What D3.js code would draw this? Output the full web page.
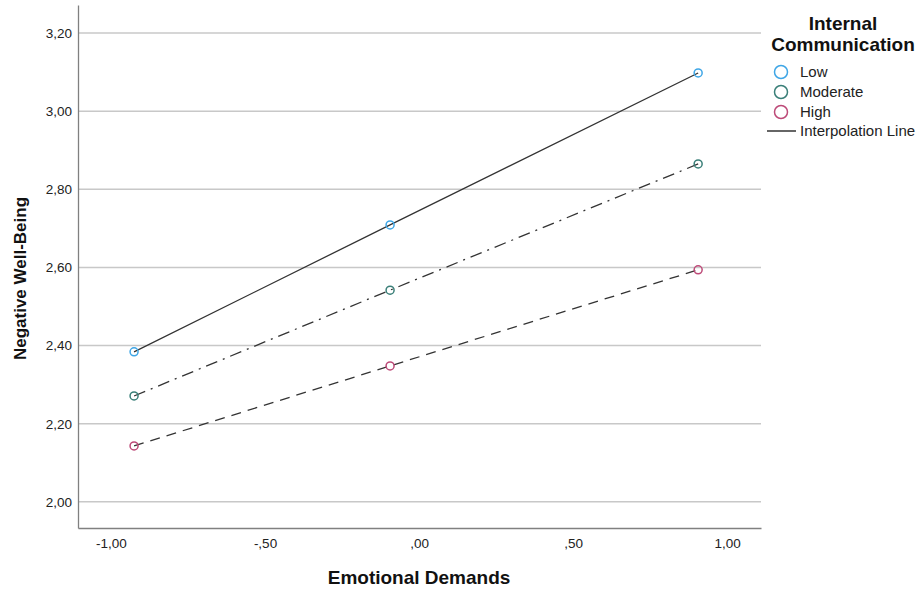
<!DOCTYPE html>
<html lang="en">
<head>
<meta charset="utf-8">
<script src="https://cdn.jsdelivr.net/npm/d3@7"></script>
<style>
  body { margin: 0; background: #fff; }
  svg { font-family: "Liberation Sans", Arial, sans-serif; }
</style>
</head>
<body>
<script>
// x values (emotional demands) and mean negative well-being per group
var xValues = [-0.925, -0.094, 0.906];
var groups = ["Low", "Moderate", "High"];
var lowValues = [2.384, 2.709, 3.098];
var moderateValues = [2.271, 2.542, 2.865];
var highValues = [2.143, 2.348, 2.594];
var yTicks = [2.0, 2.2, 2.4, 2.6, 2.8, 3.0, 3.2];
var xTicks = [-1, -0.5, 0, 0.5, 1];

var colors = {Low: "#3fa6e6", Moderate: "#3a7f78", High: "#bd4a78"};
var dashes = {Low: null, Moderate: "12,6,2,6", High: "10,7"};

var width = 921, height = 589;
var plot = {left: 78, right: 761, top: 5, bottom: 528};

var svg = d3.select("body").append("svg")
  .attr("width", width)
  .attr("height", height);

var x = d3.scaleLinear().domain([-1.107, 1.110]).range([plot.left, plot.right]);
var y = d3.scaleLinear().domain([1.933, 3.272]).range([plot.bottom, plot.top]);

// SPSS style: comma decimal, no leading zero, plain hyphen
var fmt = function(v) {
  var s = Math.abs(v).toFixed(2).replace(".", ",").replace(/^0,/, ",");
  return (v < 0 ? "-" : "") + s;
};

// gridlines
svg.append("g").selectAll("line").data(yTicks).enter().append("line")
  .attr("x1", plot.left).attr("x2", plot.right)
  .attr("y1", d => y(d)).attr("y2", d => y(d))
  .attr("stroke", "#c8c8c8").attr("stroke-width", 1.5);

// axes
var yAxis = d3.axisLeft(y).tickValues(yTicks).tickFormat(fmt).tickSize(0).tickPadding(6);
var xAxis = d3.axisBottom(x).tickValues(xTicks).tickFormat(fmt).tickSize(0).tickPadding(10);

var gy = svg.append("g").attr("transform", "translate(" + plot.left + ",0)").call(yAxis);
var gx = svg.append("g").attr("transform", "translate(0," + plot.bottom + ")").call(xAxis);
[gx, gy].forEach(function(g) {
  g.select(".domain").attr("stroke", "#808080").attr("stroke-width", 1.3);
  g.selectAll("text").attr("font-size", 13.5).attr("fill", "#222")
    .attr("font-family", "'Liberation Sans', Arial, sans-serif");
});

// axis titles
svg.append("text").attr("x", x(0)).attr("y", 584)
  .attr("text-anchor", "middle").attr("font-size", 19).attr("font-weight", "bold")
  .attr("fill", "#111").text("Emotional Demands");
svg.append("text").attr("transform", "translate(26," + ((plot.top + plot.bottom) / 2 + 12) + ") rotate(-90)")
  .attr("text-anchor", "middle").attr("font-size", 17).attr("font-weight", "bold")
  .attr("fill", "#111").text("Negative Well-Being");

var series = [
  {name: "Low", values: lowValues},
  {name: "Moderate", values: moderateValues},
  {name: "High", values: highValues}
];

var line = d3.line().x((d, i) => x(xValues[i])).y(d => y(d));

series.forEach(function(s) {
  svg.append("path").datum(s.values)
    .attr("d", line)
    .attr("fill", "none")
    .attr("stroke", "#333")
    .attr("stroke-width", 1.3)
    .attr("stroke-dasharray", dashes[s.name]);
  svg.append("g").selectAll("circle").data(s.values).enter().append("circle")
    .attr("cx", (d, i) => x(xValues[i]))
    .attr("cy", d => y(d))
    .attr("r", 4)
    .attr("fill", "none")
    .attr("stroke", colors[s.name])
    .attr("stroke-width", 1.5);
});

// legend
var lg = svg.append("g");
lg.append("text").attr("x", 843).attr("y", 30).attr("text-anchor", "middle")
  .attr("font-size", 19).attr("font-weight", "bold").attr("fill", "#111").text("Internal");
lg.append("text").attr("x", 843).attr("y", 51).attr("text-anchor", "middle")
  .attr("font-size", 19).attr("font-weight", "bold").attr("fill", "#111").text("Communication");

groups.forEach(function(g, i) {
  var cy = 72 + i * 20;
  lg.append("circle").attr("cx", 781).attr("cy", cy).attr("r", 6.5)
    .attr("fill", "none").attr("stroke", colors[g]).attr("stroke-width", 1.5);
  lg.append("text").attr("x", 800).attr("y", cy + 5).attr("font-size", 15)
    .attr("fill", "#222").text(g);
});
lg.append("line").attr("x1", 767).attr("x2", 796).attr("y1", 131).attr("y2", 131)
  .attr("stroke", "#333").attr("stroke-width", 1.5);
lg.append("text").attr("x", 800).attr("y", 136).attr("font-size", 15)
  .attr("fill", "#222").text("Interpolation Line");
</script>
</body>
</html>
